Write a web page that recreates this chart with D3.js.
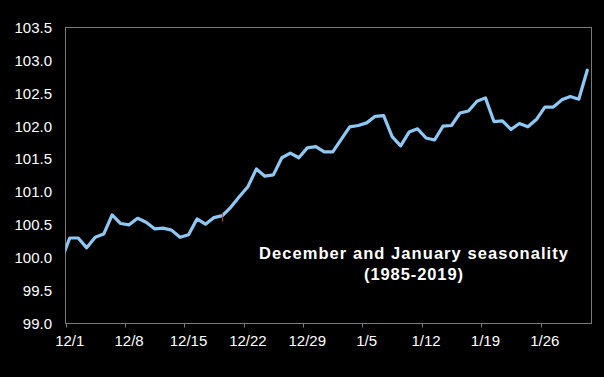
<!DOCTYPE html>
<html><head><meta charset="utf-8">
<script src="https://cdn.jsdelivr.net/npm/d3@7"></script>
<style>html,body{margin:0;padding:0;background:#000;}svg{display:block;}</style>
</head><body>
<script>
// Categories: calendar days Dec 1 – Jan 31 (one seasonal index value per day)
const monthDays = [["12", 31], ["1", 31]];
const dates = monthDays.flatMap(([m, n]) => d3.range(1, n + 1).map(d => `${m}/${d}`));
// Value for the day before 12/1 (the line enters the plot from the left edge)
const prevDate = "11/30";
const prevValue = 99.96;
const values = [
  100.30, 100.30, 100.15, 100.31, 100.36, 100.65, 100.52, 100.50, 100.60, 100.54,
  100.44, 100.45, 100.42, 100.31, 100.35, 100.59, 100.51, 100.61, 100.64, 100.77,
  100.93, 101.08, 101.35, 101.24, 101.26, 101.52, 101.59, 101.52, 101.67, 101.69,
  101.61, 101.61, 101.80, 101.99, 102.01, 102.05, 102.15, 102.16, 101.84, 101.70,
  101.91, 101.96, 101.82, 101.79, 102.00, 102.01, 102.20, 102.23, 102.38, 102.43,
  102.07, 102.08, 101.95, 102.04, 101.99, 102.10, 102.29, 102.29, 102.40, 102.45,
  102.41, 102.85
];
const xTickLabels = ["12/1", "12/8", "12/15", "12/22", "12/29", "1/5", "1/12", "1/19", "1/26"];
const yTicks = [99.0, 99.5, 100.0, 100.5, 101.0, 101.5, 102.0, 102.5, 103.0, 103.5];
const markedDate = "12/19";
const titleLines = ["December and January seasonality", "(1985-2019)"];

const W = 604, H = 377;
const L = 65.5, R = 591.5, T = 27.5, B = 323.5;

const svg = d3.select("body").append("svg").attr("width", W).attr("height", H)
  .style("background", "#000");

const x = d3.scaleLinear().domain([-0.5, dates.length - 0.5]).range([L, R]);
const y = d3.scaleLinear().domain([99, 103.5]).range([B, T]);

svg.append("defs").append("clipPath").attr("id", "plotclip")
  .append("rect").attr("x", L).attr("y", T).attr("width", R - L).attr("height", B - T);

// frame
const frameColor = "#7a7a7a";
svg.append("rect").attr("x", L).attr("y", T).attr("width", R - L).attr("height", B - T)
  .attr("fill", "none").attr("stroke", frameColor).attr("stroke-width", 1);

// y axis labels
svg.append("g").selectAll("text").data(yTicks).join("text")
  .attr("x", 52).attr("y", d => y(d)).attr("dy", "0.36em")
  .attr("text-anchor", "end").attr("fill", "#fff")
  .attr("font-family", "Liberation Sans, Arial, sans-serif").attr("font-size", 15)
  .text(d => d.toFixed(1));

// x axis ticks at category boundaries every 7 days, labels centered on categories
const tickIdx = xTickLabels.map(l => dates.indexOf(l));
svg.append("g").selectAll("line").data(tickIdx).join("line")
  .attr("x1", i => Math.round(x(i - 0.5)) + 0.5).attr("x2", i => Math.round(x(i - 0.5)) + 0.5)
  .attr("y1", B).attr("y2", B + 4)
  .attr("stroke", frameColor).attr("stroke-width", 1);
svg.append("g").selectAll("text").data(xTickLabels).join("text")
  .attr("x", l => x(dates.indexOf(l))).attr("y", 346)
  .attr("text-anchor", "middle").attr("fill", "#fff")
  .attr("font-family", "Liberation Sans, Arial, sans-serif").attr("font-size", 15)
  .text(l => l);

// line
const pts = [{i: -1, v: prevValue, d: prevDate}].concat(values.map((v, i) => ({i, v, d: dates[i]})));
const line = d3.line().x(p => x(p.i)).y(p => y(p.v));
svg.append("path").datum(pts)
  .attr("clip-path", "url(#plotclip)")
  .attr("d", line).attr("fill", "none")
  .attr("stroke", "#8ec8f4").attr("stroke-width", 3.2)
  .attr("stroke-linejoin", "round").attr("stroke-linecap", "round");

// small red marker
const mi = dates.indexOf(markedDate);
svg.append("line")
  .attr("x1", x(mi)).attr("x2", x(mi))
  .attr("y1", y(values[mi]) - 3).attr("y2", y(values[mi]) + 6)
  .attr("stroke", "#e03030").attr("stroke-width", 1);

// annotation text
const tx = 413.5;
svg.append("text").attr("x", tx).attr("y", 259)
  .attr("text-anchor", "middle").attr("fill", "#fff")
  .attr("font-family", "Liberation Sans, Arial, sans-serif").attr("font-weight", "bold")
  .attr("font-size", 16.5).attr("textLength", 309).attr("lengthAdjust", "spacing")
  .text(titleLines[0]);
svg.append("text").attr("x", tx).attr("y", 280)
  .attr("text-anchor", "middle").attr("fill", "#fff")
  .attr("font-family", "Liberation Sans, Arial, sans-serif").attr("font-weight", "bold")
  .attr("font-size", 16.5).attr("textLength", 99).attr("lengthAdjust", "spacing")
  .text(titleLines[1]);
</script>
</body></html>
